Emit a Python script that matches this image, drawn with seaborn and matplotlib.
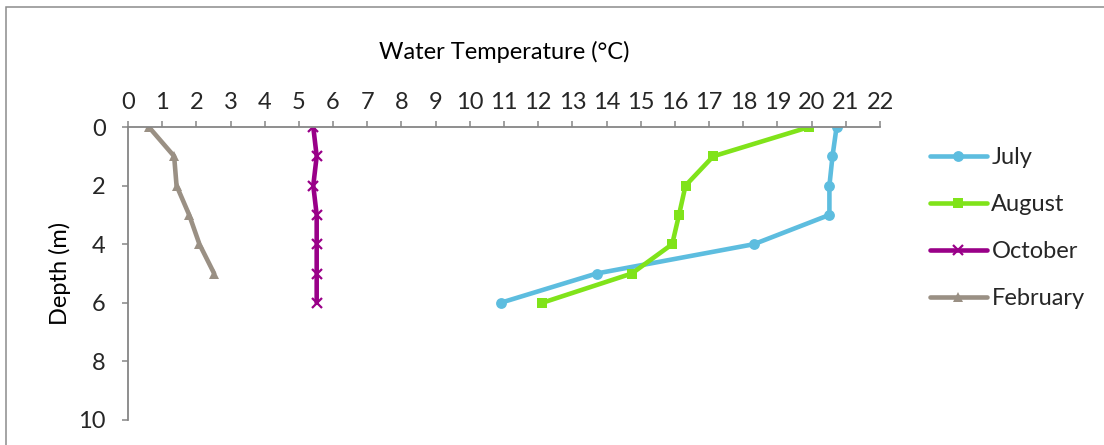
import matplotlib
matplotlib.use("Agg")
import matplotlib.pyplot as plt
import seaborn as sns
import pandas as pd
from matplotlib.patches import Rectangle

# Temperature profiles (°C) by depth (m) for each sampling month
depth_july = [0, 1, 2, 3, 4, 5, 6]
temp_july = [20.73, 20.61, 20.52, 20.52, 18.31, 13.71, 10.90]

depth_august = [0, 1, 2, 3, 4, 5, 6]
temp_august = [19.93, 17.12, 16.31, 16.12, 15.92, 14.74, 12.12]

depth_october = [0, 1, 2, 3, 4, 5, 6]
temp_october = [5.42, 5.52, 5.42, 5.52, 5.52, 5.52, 5.52]

depth_february = [0, 1, 2, 3, 4, 5]
temp_february = [0.61, 1.35, 1.42, 1.79, 2.09, 2.52]

months = ["July", "August", "October", "February"]
colors = ["#5DBDDF", "#80E31A", "#990088", "#9A9084"]
markers = ["o", "s", "x", "^"]

series = {
    "July": (depth_july, temp_july),
    "August": (depth_august, temp_august),
    "October": (depth_october, temp_october),
    "February": (depth_february, temp_february),
}

sns.set_theme(style="white")
plt.rcParams["font.family"] = ["Lato", "DejaVu Sans"]

FS = 17
fig = plt.figure(figsize=(11.04, 4.45), dpi=100)
ax = fig.add_axes([128 / 1104, 1 - 420 / 445, (880 - 128) / 1104, (420 - 127) / 445])

# Outer chart frame
fig.patches.append(Rectangle((6 / 1104, -0.05), 1.2, 1 - 7 / 445 + 0.05,
                             transform=fig.transFigure, fill=False,
                             edgecolor="#8C8C8C", linewidth=1.1, zorder=0))

for month, color, marker in zip(months, colors, markers):
    d, t = series[month]
    frame = pd.DataFrame({"Depth": d, "Temperature": t})
    line_x = marker == "x"
    sns.lineplot(data=frame, x="Temperature", y="Depth", sort=False, estimator=None,
                 color=color, marker=marker, linewidth=3.3,
                 markersize=6.5 if line_x else 7.8,
                 markeredgewidth=1.6 if line_x else 0,
                 markeredgecolor=color, label=month, ax=ax)

ax.set_xlim(0, 22)
ax.set_ylim(10, 0)
ax.set_xticks(range(0, 23))
ax.set_yticks(range(0, 11, 2))
ax.xaxis.tick_top()
ax.xaxis.set_label_position("top")

for side in ["bottom", "right"]:
    ax.spines[side].set_visible(False)
for side in ["top", "left"]:
    ax.spines[side].set_color("#868686")
    ax.spines[side].set_linewidth(1.3)

ax.tick_params(axis="x", which="major", direction="out", length=4, width=1.1,
               color="#868686", labelsize=FS, pad=6, top=True, bottom=False)
ax.tick_params(axis="y", which="major", direction="out", length=4, width=1.1,
               color="#868686", labelsize=FS, pad=12, left=True)

ax.set_xlabel("Water Temperature (°C)", fontsize=FS, labelpad=24, color="black")
ax.set_ylabel("Depth (m)", fontsize=FS, labelpad=5, color="black")

handles, labels = ax.get_legend_handles_labels()
ax.legend(handles, labels, loc="center left",
          bbox_to_anchor=(930 / 1104, 1 - 228 / 445), bbox_transform=fig.transFigure,
          frameon=False, fontsize=FS, handlelength=2.4, handletextpad=0.2,
          labelspacing=1.1, borderpad=0, borderaxespad=0)

fig.savefig("out.png", dpi=100)
